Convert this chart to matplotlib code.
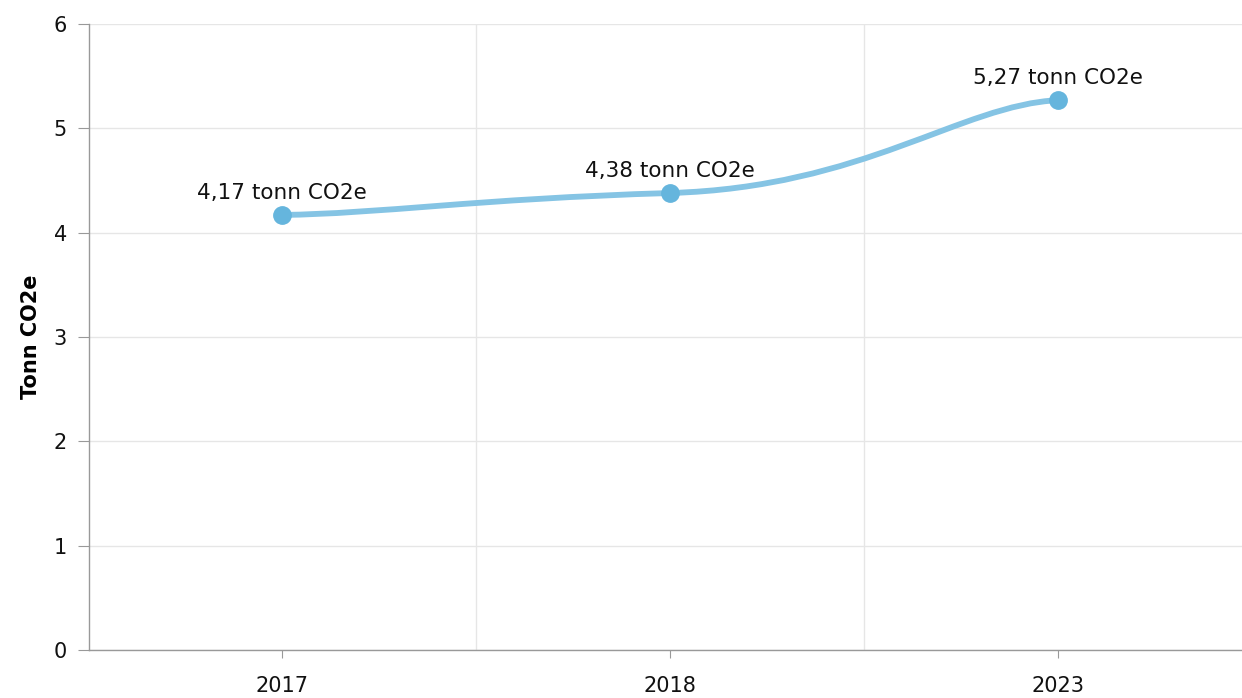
import numpy as np
import matplotlib
matplotlib.use("Agg")
import matplotlib.pyplot as plt
from matplotlib.path import Path
from matplotlib.patches import PathPatch

years = ["2017", "2018", "2023"]
values = [4.17, 4.38, 5.27]
labels = ["4,17 tonn CO2e", "4,38 tonn CO2e", "5,27 tonn CO2e"]

line_col = "#85c4e4"
dot_col = "#65b5dd"


def smoothed_path(xs, ys, bx=4.0, by=20.0):
    # bezier smoothing: long horizontal handles, short vertical ones
    pts = list(zip(xs, ys))
    n = len(pts)
    verts = [pts[0]]
    codes = [Path.MOVETO]
    for i in range(n - 1):
        p0 = pts[i - 1] if i > 0 else pts[i]
        p1 = pts[i]
        p2 = pts[i + 1]
        p3 = pts[i + 2] if i + 2 < n else pts[i + 1]
        c1 = (p1[0] + (p2[0] - p0[0]) / bx, p1[1] + (p2[1] - p0[1]) / by)
        c2 = (p2[0] - (p3[0] - p1[0]) / bx, p2[1] - (p3[1] - p1[1]) / by)
        verts += [c1, c2, p2]
        codes += [Path.CURVE4] * 3
    return Path(verts, codes)


fig = plt.figure(figsize=(12.42, 6.98), dpi=100)
ax = fig.add_axes([89/1242, 48/698, 1 - 89/1242, (650-24)/698])

x = np.arange(len(years))
ax.add_patch(PathPatch(smoothed_path(list(x), values), fill=False,
                       edgecolor=line_col, lw=4.2, capstyle="round", zorder=3))
ax.plot(x, values, "o", color=dot_col, ms=12.5, zorder=4)
for xi, v, t in zip(x, values, labels):
    ax.annotate(t, (xi, v), xytext=(0, 8.5), textcoords="offset points",
                ha="center", va="bottom", fontsize=15.5, color="#111111")

ax.set_xlim(-0.497, 2.474)
ax.set_ylim(0, 6)
ax.set_yticks(range(0, 7))
ax.set_xticks(x)
ax.set_xticklabels(years)
ax.set_xticks([0.5, 1.5], minor=True)
ax.grid(axis="y", color="#e6e6e6", lw=1)
ax.grid(axis="x", which="minor", color="#e6e6e6", lw=1)
ax.set_axisbelow(True)

for s in ["top", "right"]:
    ax.spines[s].set_visible(False)
for s in ["left", "bottom"]:
    ax.spines[s].set_color("#999999")
    ax.spines[s].set_linewidth(1)
ax.tick_params(axis="y", length=8, color="#999999", labelsize=15, pad=8, labelcolor="#111111")
ax.tick_params(axis="x", which="major", length=6, color="#999999", labelsize=15, pad=13,
               labelcolor="#111111")
ax.tick_params(axis="x", which="minor", length=0)

ax.set_ylabel("Tonn CO2e", fontsize=15, fontweight="bold", labelpad=9)

fig.savefig("out.png", dpi=100)
